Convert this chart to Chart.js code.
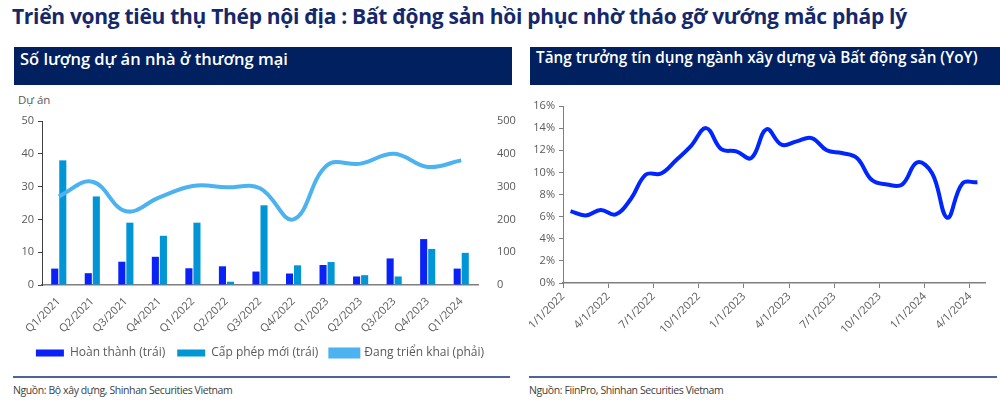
<!DOCTYPE html>
<html>
<head>
<meta charset="utf-8">
<script src="https://cdn.jsdelivr.net/npm/chart.js@4.4.1/dist/chart.umd.min.js"></script>
<style>
  body { margin: 0; width: 1000px; height: 400px; background: #fff; position: relative; overflow: hidden; font-family: "Open Sans", sans-serif; }
  .abs { position: absolute; white-space: nowrap; }
  #title { left: 12px; top: 2px; font: bold 21px "Open Sans", sans-serif; color: #14286b; letter-spacing: -0.3px; }
  .hdr { top: 47px; height: 38px; line-height: 38px; background: #002060; color: #fff; }
  #hdrL { left: 14px; width: 498px; font: 600 16.5px "Open Sans", sans-serif; }
  #hdrR { left: 530px; width: 470px; font: 600 15.3px "Open Sans", sans-serif; }
  #hdrL span, #hdrR span { margin-left: 6px; }
  #unit { left: 18px; top: 92px; font-size: 11.5px; color: #595959; }
  .rule { top: 376px; height: 2px; background: #4f63a3; }
  .src { top: 383px; font-size: 10.5px; color: #404040; letter-spacing: -0.4px; }
  canvas { position: absolute; }
</style>
</head>
<body>
<div id="title" class="abs">Triển vọng tiêu thụ Thép nội địa : Bất động sản hồi phục nhờ tháo gỡ vướng mắc pháp lý</div>
<div id="hdrL" class="abs hdr"><span>Số lượng dự án nhà ở thương mại</span></div>
<div id="hdrR" class="abs hdr"><span>Tăng trưởng tín dụng ngành xây dựng và Bất động sản (YoY)</span></div>
<div id="unit" class="abs">Dự án</div>

<canvas id="duAnChart" width="520" height="285" style="left:0;top:88px"></canvas>
<canvas id="tinDungChart" width="480" height="285" style="left:520px;top:88px"></canvas>

<div class="abs rule" style="left:13px;width:497px"></div>
<div class="abs rule" style="left:529px;width:468px"></div>
<div class="abs src" style="left:13px">Nguồn: Bộ xây dựng, Shinhan Securities Vietnam</div>
<div class="abs src" style="left:529px">Nguồn: FiinPro, Shinhan Securities Vietnam</div>

<script>
// Số lượng dự án (theo quý)
const quy = ['Q1/2021','Q2/2021','Q3/2021','Q4/2021','Q1/2022','Q2/2022','Q3/2022','Q4/2022','Q1/2023','Q2/2023','Q3/2023','Q4/2023','Q1/2024'];
const hoanThanh = [5, 3.6, 7.1, 8.6, 5.1, 5.7, 4.1, 3.5, 6.1, 2.6, 8.1, 14, 5];
const capPhepMoi = [38, 27, 19, 15, 19, 1, 24.3, 6, 7, 3, 2.6, 11, 9.8];
const dangTrienKhai = [270, 315, 225, 267, 302, 298, 295, 200, 365, 370, 400, 360, 380];

// Tăng trưởng tín dụng (theo tháng, %)
const thang = ['1/1/2022','2/1/2022','3/1/2022','4/1/2022','5/1/2022','6/1/2022','7/1/2022','8/1/2022','9/1/2022','10/1/2022','11/1/2022','12/1/2022',
               '1/1/2023','2/1/2023','3/1/2023','4/1/2023','5/1/2023','6/1/2023','7/1/2023','8/1/2023','9/1/2023','10/1/2023','11/1/2023','12/1/2023',
               '1/1/2024','2/1/2024','3/1/2024','4/1/2024'];
const tinDung = [6.5, 6.1, 6.6, 6.2, 7.6, 9.8, 9.9, 11.1, 12.4, 14.0, 12.1, 11.9, 11.3, 13.9, 12.5, 12.8, 13.1, 12.0, 11.75, 11.3, 9.3, 8.9, 8.9, 10.9, 9.9, 5.9, 9.0, 9.1];

const mauChu = '#595959';
const fontTick = { family: 'Open Sans', size: 11 };

// Chart trái: cột + đường
new Chart(document.getElementById('duAnChart'), {
    data: {
        labels: quy,
        datasets: [
            { type: 'line', label: 'Đang triển khai (phải)', data: dangTrienKhai, yAxisID: 'y1',
              borderColor: '#4db2f0', backgroundColor: '#4db2f0', borderWidth: 4, pointRadius: 0, tension: 0.4, order: 0 },
            { type: 'bar', label: 'Hoàn thành (trái)', data: hoanThanh, yAxisID: 'y',
              backgroundColor: '#0a22f5', barPercentage: 0.88, categoryPercentage: 0.48, order: 1 },
            { type: 'bar', label: 'Cấp phép mới (trái)', data: capPhepMoi, yAxisID: 'y',
              backgroundColor: '#0096d6', barPercentage: 0.88, categoryPercentage: 0.48, order: 1 }
        ]
    },
    options: {
        responsive: false,
        animation: false,
        layout: { padding: { top: 33, bottom: 4 } },
        plugins: {
            tooltip: { enabled: false },
            legend: {
                position: 'bottom',
                labels: {
                    boxWidth: 28, boxHeight: 7, padding: 12, color: mauChu,
                    font: { family: 'Open Sans', size: 12 },
                    // thứ tự chú thích: cột trước, đường sau
                    sort: (a, b) => (a.datasetIndex === 0 ? 1 : 0) - (b.datasetIndex === 0 ? 1 : 0)
                }
            }
        },
        scales: {
            x: {
                grid: { display: false },
                border: { color: '#7f7f7f', width: 1.5 },
                ticks: { color: mauChu, font: fontTick, minRotation: 45, maxRotation: 45, padding: 2 },
                afterFit: s => { s.height = 50; }
            },
            y: {
                position: 'left', min: 0, max: 50,
                ticks: { stepSize: 10, color: mauChu, font: fontTick, padding: 4 },
                grid: { drawOnChartArea: false, tickLength: 4, color: '#404040' },
                border: { color: '#404040', width: 1 },
                afterFit: s => { s.width = 42; }
            },
            y1: {
                position: 'right', min: 0, max: 500,
                ticks: { stepSize: 100, color: mauChu, font: fontTick, padding: 11 },
                grid: { display: false },
                border: { display: false },
                afterFit: s => { s.width = 42; }
            }
        }
    }
});

// Chart phải: đường tín dụng
new Chart(document.getElementById('tinDungChart'), {
    type: 'line',
    data: {
        labels: thang,
        datasets: [{
            label: 'Tăng trưởng tín dụng',
            data: tinDung,
            borderColor: '#0026ff', borderWidth: 4, pointRadius: 0, tension: 0.4
        }]
    },
    options: {
        responsive: false,
        animation: false,
        layout: { padding: { top: 18, right: 15 } },
        plugins: { legend: { display: false }, tooltip: { enabled: false } },
        scales: {
            x: {
                offset: true,
                grid: {
                    offset: true, drawOnChartArea: false, tickLength: 5,
                    color: ctx => (ctx.index % 3 === 0 ? '#7f7f7f' : 'rgba(0,0,0,0)')
                },
                border: { color: '#7f7f7f', width: 1.5 },
                ticks: {
                    autoSkip: false, minRotation: 45, maxRotation: 45, color: mauChu, font: fontTick,
                    labelOffset: -7.5, padding: 2,
                    callback: function (v, i) { return i % 3 === 0 ? thang[i] : ''; }
                },
                afterFit: s => { s.height = 90; }
            },
            y: {
                min: 0, max: 16,
                ticks: { stepSize: 2, color: mauChu, font: fontTick, padding: 4, callback: v => v + '%' },
                grid: { drawOnChartArea: false, tickLength: 4, color: '#7f7f7f' },
                border: { color: '#7f7f7f', width: 1 },
                afterFit: s => { s.width = 43; }
            }
        }
    }
});
</script>
</body>
</html>
